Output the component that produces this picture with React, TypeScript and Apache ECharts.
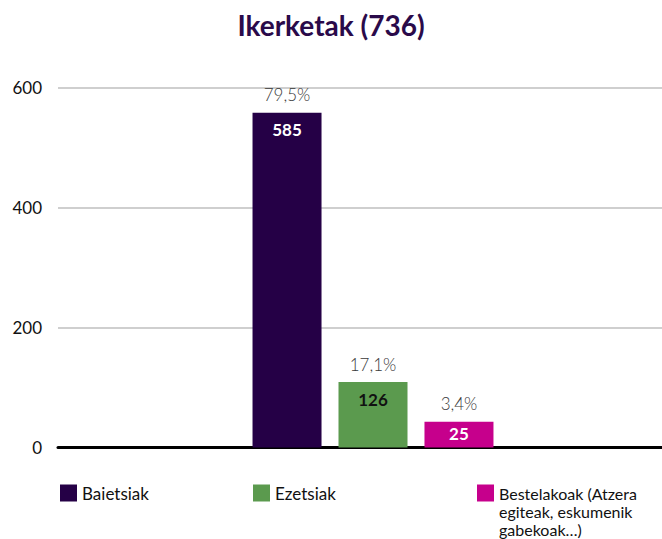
import React, { useEffect, useRef } from "react";
import * as echarts from "echarts";

const titleText = "Ikerketak (736)";
const seriesNames = ["Baietsiak", "Ezetsiak", "Bestelakoak (Atzera egiteak, eskumenik gabekoak…)"];
const legendLabels = ["Baietsiak", "Ezetsiak", "\n\nBestelakoak (Atzera\negiteak, eskumenik\ngabekoak…)"];
// bar heights (axis units)
const barHeights = [558, 109, 43];
// printed labels
const countLabels = ["585", "126", "25"];
const percentLabels = ["79,5%", "17,1%", "3,4%"];
const colors = ["#250046", "#5b9a4e", "#c6008c"];
const countColors = ["#ffffff", "#111111", "#ffffff"];
const yTicks = [0, 200, 400, 600];

const FONT = "Lato, 'Open Sans', sans-serif";

export default function App() {
  const ref = useRef<HTMLDivElement>(null);
  useEffect(() => {
    if (!ref.current) return;
    const chart = echarts.init(ref.current, undefined, { renderer: "svg" });
    const legendLeft = [60, 253, 477];
    const series = seriesNames.map((name, i) => ({
      name,
      type: "bar",
      barWidth: 69,
      barGap: "24.6%",
      itemStyle: { color: colors[i] },
      data: [barHeights[i]],
      label: {
        show: true,
        position: "insideTop",
        distance: 0,
        offset: [0, -43],
        formatter: () => `{p|${percentLabels[i]}}\n{c|${countLabels[i]}}`,
        rich: {
          p: {
            fontFamily: FONT,
            fontSize: 17,
            fontWeight: 300,
            color: "#3a3a3a",
            lineHeight: 50,
            align: "center",
          },
          c: {
            fontFamily: FONT,
            fontSize: 17,
            fontWeight: "bold",
            color: countColors[i],
            lineHeight: i === 2 ? 10 : 20,
            align: "center",
          },
        },
      },
    }));
    chart.setOption({
      animation: false,
      title: {
        text: titleText,
        left: "center",
        top: 6,
        textStyle: { fontFamily: FONT, fontSize: 28, fontWeight: "bold", color: "#2a0a4a" },
      },
      grid: {
        left: 58,
        width: 630,
        top: 87.5,
        bottom: 91.5,
        containLabel: false,
        outerBoundsMode: "none",
      },
      xAxis: {
        type: "category",
        data: [""],
        axisTick: { show: false },
        axisLabel: { show: false },
        axisLine: { lineStyle: { color: "#000", width: 3 } },
      },
      yAxis: {
        type: "value",
        min: yTicks[0],
        max: yTicks[yTicks.length - 1],
        interval: 200,
        axisLine: { show: false },
        axisTick: { show: false },
        axisLabel: { fontFamily: FONT, fontSize: 17, color: "#111", margin: 16 },
        splitLine: { lineStyle: { color: "#bfbfbf", width: 1.5 } },
      },
      legend: seriesNames.map((n, i) => ({
        data: [n],
        left: legendLeft[i],
        top: i === 2 ? 448 : 484,
        padding: 0,
        itemWidth: 17,
        itemHeight: 17,
        itemGap: 5,
        icon: "rect",
        selectedMode: false,
        formatter: () => legendLabels[i],
        textStyle: {
          fontFamily: FONT,
          fontSize: i === 2 ? 16 : 17,
          color: "#111",
          lineHeight: 18,
        },
      })),
      series,
    });
    return () => chart.dispose();
  }, []);
  return (
    <div
      ref={ref}
      style={{ position: "absolute", left: 0, top: 0, width: 662, height: 539, background: "#fff" }}
    />
  );
}
